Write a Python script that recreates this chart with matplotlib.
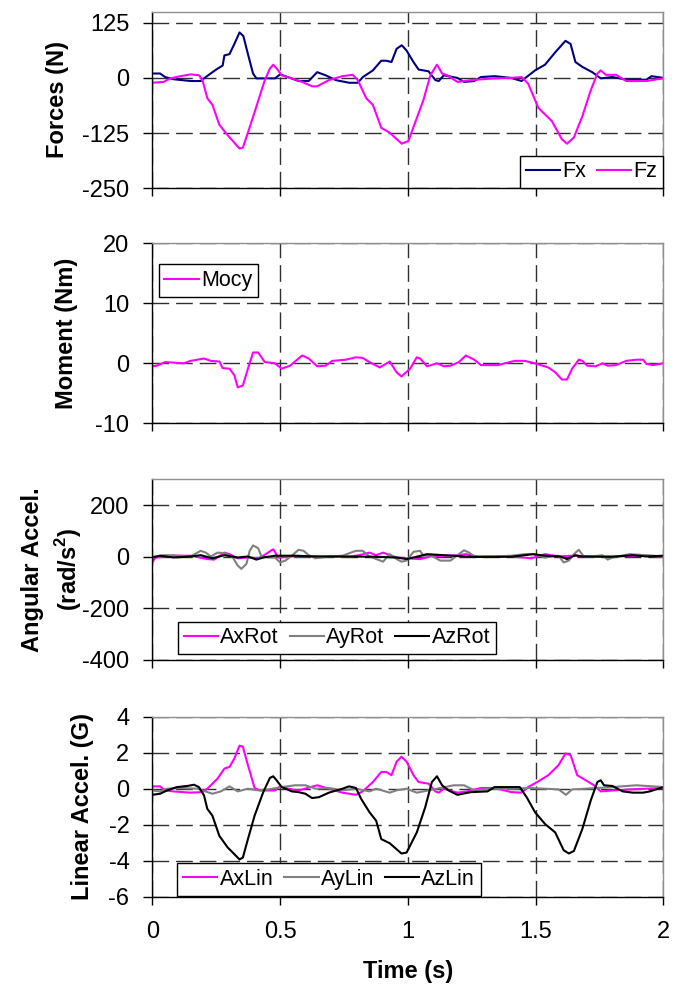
import matplotlib
matplotlib.use("Agg")
import matplotlib.pyplot as plt

plt.rcParams['font.family'] = ['Liberation Sans', 'DejaVu Sans']
plt.rcParams['axes.unicode_minus'] = False
plt.rcParams['mathtext.fontset'] = 'custom'
plt.rcParams['mathtext.rm'] = 'Liberation Sans:bold'
plt.rcParams['mathtext.bf'] = 'Liberation Sans:bold'

# ---------------- data ----------------
fx_t = [0, 0.03, 0.05, 0.083, 0.15, 0.19, 0.202, 0.235, 0.255, 0.275, 0.282, 0.302, 0.321, 0.341, 0.356, 0.374,
        0.394, 0.407, 0.48, 0.50, 0.52, 0.572, 0.612, 0.645, 0.678, 0.718, 0.771, 0.804, 0.824, 0.863, 0.896,
        0.916, 0.936, 0.956, 0.976, 0.995, 1.022, 1.042, 1.081, 1.108, 1.121, 1.141, 1.194, 1.220, 1.26, 1.286,
        1.339, 1.405, 1.445, 1.458, 1.498, 1.537, 1.577, 1.617, 1.637, 1.656, 1.683, 1.722, 1.755, 1.801, 1.855,
        1.934, 1.954, 2.0]
fx_v = [10, 10, 2, -3, -7, -7, -1, 13, 21, 28, 51, 54, 77, 103, 95, 54,
        10, -1, -1, 8, 4, -7, -7, 13, 6, -5, -11, -11, 2, 17, 39,
        39, 36, 66, 74, 62, 36, 19, 15, -5, -7, 6, 0, -9, -7, 2,
        4, 0, -7, -1, 17, 30, 58, 84, 77, 36, 25, 13, -1, 2, -4,
        -4, 4, 0]

fz_t = [0, 0.044, 0.07, 0.11, 0.15, 0.183, 0.196, 0.215, 0.235, 0.262, 0.295, 0.341, 0.354, 0.374, 0.407, 0.44,
        0.46, 0.473, 0.487, 0.506, 0.546, 0.586, 0.625, 0.645, 0.691, 0.744, 0.784, 0.804, 0.837, 0.863, 0.896,
        0.929, 0.976, 1.002, 1.028, 1.061, 1.088, 1.114, 1.134, 1.154, 1.194, 1.246, 1.339, 1.405, 1.445, 1.471,
        1.511, 1.564, 1.603, 1.623, 1.65, 1.683, 1.716, 1.742, 1.755, 1.775, 1.815, 1.855, 1.934, 2.0]
fz_v = [-11, -9, -1, 4, 8, 6, -5, -46, -61, -106, -130, -160, -158, -124, -65, -5,
        21, 30, 21, 6, -1, -9, -19, -19, -5, 4, 7, -5, -46, -61, -113,
        -124, -149, -143, -102, -50, 6, 30, 10, 6, -9, -5, -1, 0, 2, -13,
        -68, -98, -139, -149, -135, -87, -28, 10, 17, 7, 7, -7, -7, -1]

mocy_t = [0, 0.017, 0.05, 0.123, 0.149, 0.202, 0.229, 0.262, 0.275, 0.302, 0.321, 0.334, 0.354, 0.374, 0.394,
          0.414, 0.44, 0.48, 0.506, 0.539, 0.586, 0.612, 0.645, 0.678, 0.704, 0.757, 0.797, 0.823, 0.85, 0.89,
          0.929, 0.956, 0.975, 1.009, 1.035, 1.048, 1.075, 1.114, 1.141, 1.167, 1.2, 1.227, 1.26, 1.286, 1.352,
          1.418, 1.458, 1.498, 1.55, 1.577, 1.603, 1.623, 1.643, 1.669, 1.683, 1.702, 1.735, 1.762, 1.782, 1.815,
          1.855, 1.894, 1.921, 1.934, 1.96, 2.0]
mocy_v = [-0.5, -0.4, 0.2, 0, 0.4, 0.8, 0.4, 0.3, -0.8, -0.9, -2, -4, -3.7, -0.9, 1.8,
          1.8, 0.2, 0, -0.9, -0.4, 1.3, 0.8, -0.5, -0.4, 0.4, 0.6, 1.0, 0.9, 0.2, -0.7,
          0.3, -1.5, -2.2, -0.9, 1.0, 0.8, -0.5, 0, -0.5, -0.4, 0.2, 1.3, 0.6, -0.3, -0.3,
          0.4, 0.4, 0, -0.7, -1.5, -2.7, -2.7, -0.9, 0.6, 0.4, -0.4, -0.5, 0, -0.4, -0.3,
          0.4, 0.6, 0.6, -0.1, -0.3, 0]

axrot_t = [0, 0.011, 0.057, 0.110, 0.149, 0.215, 0.242, 0.282, 0.302, 0.334, 0.374, 0.414, 0.434, 0.473, 0.493,
           0.546, 0.612, 0.678, 0.770, 0.810, 0.850, 0.876, 0.903, 0.956, 0.995, 1.048, 1.088, 1.141, 1.194,
           1.227, 1.273, 1.405, 1.484, 1.537, 1.590, 1.643, 1.722, 1.801, 1.934, 2.0]
axrot_v = [-22, -3, 1, 4, 4, -9, -11, 16, 10, -6, -3, -6, 4, 29, -3,
           1, 1, 1, 0, 6, 16, 6, 16, -3, -6, -9, 1, 4, 6,
           10, 1, 1, -6, 10, 1, 4, 0, 1, 4, 1]

ayrot_t = [0, 0.044, 0.083, 0.149, 0.189, 0.209, 0.229, 0.255, 0.282, 0.315, 0.334, 0.348, 0.368, 0.381, 0.394,
           0.414, 0.427, 0.453, 0.480, 0.500, 0.520, 0.546, 0.572, 0.592, 0.612, 0.638, 0.691, 0.744, 0.797,
           0.823, 0.850, 0.876, 0.903, 0.929, 0.956, 0.975, 0.995, 1.022, 1.048, 1.061, 1.088, 1.127, 1.167,
           1.194, 1.220, 1.240, 1.260, 1.339, 1.405, 1.458, 1.491, 1.537, 1.590, 1.610, 1.630, 1.650, 1.669,
           1.689, 1.722, 1.762, 1.782, 1.801, 1.868, 1.934, 2.0]
ayrot_v = [0, 6, 6, 1, 23, 16, 1, 16, 14, -3, -34, -47, -28, 23, 44,
           33, 1, -3, -3, -22, -15, 4, 27, 23, 6, -6, 1, 4, 23,
           23, 1, -9, -19, 10, -9, -19, -15, 19, 23, 4, 6, -15, -15,
           6, 25, 16, 1, 1, 4, 10, 10, -3, 4, -22, -15, 10, 27,
           1, 1, 6, -11, -3, 10, 6, 1]

azrot_t = [0, 0.030, 0.083, 0.149, 0.189, 0.235, 0.282, 0.334, 0.374, 0.407, 0.434, 0.480, 0.559, 0.638, 0.744,
           0.876, 0.956, 0.995, 1.035, 1.075, 1.141, 1.220, 1.273, 1.405, 1.491, 1.537, 1.597, 1.623, 1.656,
           1.683, 1.801, 1.881, 1.934, 2.0]
azrot_v = [-3, 4, -3, 1, 6, -6, 6, -3, 1, -11, -3, 4, 4, 1, 1,
           0, -3, -9, 0, 10, 6, 1, -1, 0, 10, 4, 1, -9, 6,
           1, 0, 6, 1, 4]

axlin_t = [0, 0.030, 0.050, 0.083, 0.149, 0.196, 0.215, 0.255, 0.282, 0.302, 0.321, 0.341, 0.354, 0.374, 0.400,
           0.420, 0.480, 0.500, 0.533, 0.572, 0.612, 0.645, 0.691, 0.744, 0.797, 0.823, 0.863, 0.896, 0.916,
           0.936, 0.956, 0.975, 0.995, 1.022, 1.042, 1.081, 1.108, 1.121, 1.141, 1.194, 1.233, 1.286, 1.339,
           1.405, 1.445, 1.471, 1.511, 1.550, 1.590, 1.617, 1.637, 1.663, 1.696, 1.729, 1.755, 1.801, 1.868,
           1.934, 2.0]
axlin_v = [0.13, 0.13, -0.1, -0.15, -0.22, -0.19, 0, 0.56, 1.12, 1.21, 1.68, 2.39, 2.34, 1.31, 0.04,
           -0.1, -0.1, 0.13, 0, -0.1, 0.06, 0.19, 0, -0.22, -0.34, -0.15, 0.37, 0.93, 0.93,
           0.75, 1.5, 1.78, 1.5, 0.75, 0.37, 0.28, -0.15, -0.22, 0, -0.22, -0.15, 0.04, 0.04,
           -0.19, -0.22, 0.09, 0.41, 0.75, 1.31, 1.96, 1.87, 0.75, 0.47, 0.19, -0.15, -0.1, -0.04,
           0, 0.04]

aylin_t = [0, 0.030, 0.057, 0.110, 0.176, 0.235, 0.268, 0.302, 0.334, 0.374, 0.414, 0.453, 0.506, 0.559, 0.599,
           0.638, 0.691, 0.744, 0.797, 0.850, 0.876, 0.929, 0.956, 0.995, 1.035, 1.061, 1.114, 1.180, 1.220,
           1.260, 1.326, 1.405, 1.471, 1.537, 1.590, 1.619, 1.643, 1.696, 1.801, 1.894, 2.0]
aylin_v = [-0.1, -0.15, 0, 0.04, 0, -0.28, -0.15, 0.13, -0.15, 0, -0.09, -0.04, 0.09, 0.19, 0.19,
           0, 0.04, -0.09, 0, -0.15, 0, -0.22, -0.09, 0, -0.22, -0.15, 0, 0.19, 0.19,
           -0.09, 0, 0, 0.04, 0, -0.04, -0.34, -0.04, 0, 0.09, 0.19, 0.09]

azlin_t = [0, 0.030, 0.057, 0.096, 0.136, 0.163, 0.182, 0.202, 0.215, 0.235, 0.262, 0.295, 0.321, 0.341, 0.354,
           0.374, 0.400, 0.434, 0.460, 0.473, 0.486, 0.506, 0.546, 0.572, 0.599, 0.625, 0.652, 0.691, 0.744,
           0.770, 0.797, 0.817, 0.850, 0.876, 0.896, 0.929, 0.975, 0.995, 1.035, 1.068, 1.094, 1.114, 1.134,
           1.160, 1.194, 1.247, 1.312, 1.339, 1.405, 1.438, 1.465, 1.498, 1.537, 1.577, 1.610, 1.630, 1.650,
           1.683, 1.716, 1.742, 1.755, 1.768, 1.801, 1.841, 1.881, 1.921, 1.947, 2.0]
azlin_v = [-0.34, -0.28, -0.1, 0.09, 0.15, 0.22, 0.09, -0.37, -1.12, -1.5, -2.62, -3.27, -3.64, -3.93, -3.83,
           -2.8, -1.5, -0.19, 0.6, 0.69, 0.47, 0.09, -0.15, -0.19, -0.28, -0.52, -0.47, -0.22, 0,
           0.13, 0.04, -0.56, -1.31, -1.78, -2.8, -3.03, -3.6, -3.55, -2.43, -1.03, 0.37, 0.69, 0.19,
           -0.1, -0.34, -0.19, -0.15, 0.09, 0.09, 0.09, -0.47, -1.31, -1.96, -2.43, -3.42, -3.6, -3.46,
           -2.24, -0.65, 0.37, 0.47, 0.19, 0.15, -0.15, -0.22, -0.22, -0.15, 0.09]

x_ticks = [0, 0.5, 1, 1.5, 2]
x_ticklabels = ["0", "0.5", "1", "1.5", "2"]
p1_yticks = [-250, -125, 0, 125]
p2_yticks = [-10, 0, 10, 20]
p3_yticks = [-400, -200, 0, 200]
p4_yticks = [-6, -4, -2, 0, 2, 4]

MAG = '#FF00FF'
NAVY = '#000080'
GREY = '#808080'

W, H = 686, 993
fig = plt.figure(figsize=(W / 100, H / 100), dpi=100)

left = 152.4 / W
width = (663.3 - 152.4) / W
AXW = 510.9


def make_ax(top_px, bot_px):
    return fig.add_axes([left, 1 - bot_px / H, width, (bot_px - top_px) / H])


ax1 = make_ax(11.7, 188.3)
ax2 = make_ax(243.3, 423.3)
ax3 = make_ax(479.3, 660.0)
ax4 = make_ax(716.7, 896.7)

LW = 1.5
ax1.plot(fx_t, fx_v, color=NAVY, lw=LW, label='Fx')
ax1.plot(fz_t, fz_v, color=MAG, lw=LW, label='Fz')
ax1.set_ylim(-250, 150)
ax1.set_yticks(p1_yticks)

ax2.plot(mocy_t, mocy_v, color=MAG, lw=LW, label='Mocy')
ax2.set_ylim(-10, 20)
ax2.set_yticks(p2_yticks)

ax3.plot(axrot_t, axrot_v, color=MAG, lw=LW, label='AxRot')
ax3.plot(ayrot_t, ayrot_v, color=GREY, lw=LW, label='AyRot')
ax3.plot(azrot_t, azrot_v, color='black', lw=LW, label='AzRot')
ax3.set_ylim(-400, 300)
ax3.set_yticks(p3_yticks)

ax4.plot(axlin_t, axlin_v, color=MAG, lw=LW, label='AxLin')
ax4.plot(aylin_t, aylin_v, color=GREY, lw=LW, label='AyLin')
ax4.plot(azlin_t, azlin_v, color='black', lw=LW, label='AzLin')
ax4.set_ylim(-6, 4)
ax4.set_yticks(p4_yticks)

for ax in (ax1, ax2, ax3, ax4):
    ax.set_xlim(0, 2)
    ax.set_xticks(x_ticks)
    ax.set_axisbelow(True)
    ax.grid(True, color='#303030', lw=1.0, linestyle=(0, (12, 5)))
    for s in ('top', 'right'):
        ax.spines[s].set_color('#909090')
        ax.spines[s].set_linewidth(1.0)
    for s in ('left', 'bottom'):
        ax.spines[s].set_color('black')
        ax.spines[s].set_linewidth(1.0)
    ax.tick_params(axis='y', direction='out', length=6.5, width=1.0, pad=10, labelsize=17)
    ax.tick_params(axis='x', direction='out', length=5.5, width=1.0, pad=12, labelsize=17)
    ax.set_xticklabels(x_ticklabels if ax is ax4 else [])

ax4.set_xlabel('Time (s)', fontsize=17, fontweight='bold', labelpad=12)

ylab_kw = dict(rotation=90, ha='center', va='center', fontsize=17, fontweight='bold')
ax1.text((57.5 - 152.4) / AXW, 0.5, 'Forces (N)', transform=ax1.transAxes, **ylab_kw)
ax2.text((66.5 - 152.4) / AXW, 0.5, 'Moment (Nm)', transform=ax2.transAxes, **ylab_kw)
ax3.text((33.0 - 152.4) / AXW, 0.5, 'Angular Accel.', transform=ax3.transAxes, **ylab_kw)
ax3.text((69.0 - 152.4) / AXW, 0.5, '(rad/s$^{2}$)', transform=ax3.transAxes, **ylab_kw)
ax4.text((82.5 - 152.4) / AXW, 0.5, 'Linear Accel. (G)', transform=ax4.transAxes, **ylab_kw)

leg_kw = dict(fontsize=15.5, frameon=True, fancybox=False, edgecolor='black', framealpha=1,
              handlelength=1.6, handletextpad=0.1, columnspacing=0.5, borderpad=0.27,
              borderaxespad=0)


def style_leg(lg):
    lg.get_frame().set_linewidth(1.0)


style_leg(ax1.legend(loc='lower right', bbox_to_anchor=(1.0, 0.0), ncol=2, **leg_kw))
style_leg(ax2.legend(loc='upper left', bbox_to_anchor=(0.0121, 0.883), ncol=1, **leg_kw))
style_leg(ax3.legend(loc='lower left', bbox_to_anchor=(0.0499, 0.0315), ncol=3, **leg_kw))
style_leg(ax4.legend(loc='lower left', bbox_to_anchor=(0.0485, 0.0056), ncol=3, **leg_kw))

fig.savefig('out.png', dpi=100)
